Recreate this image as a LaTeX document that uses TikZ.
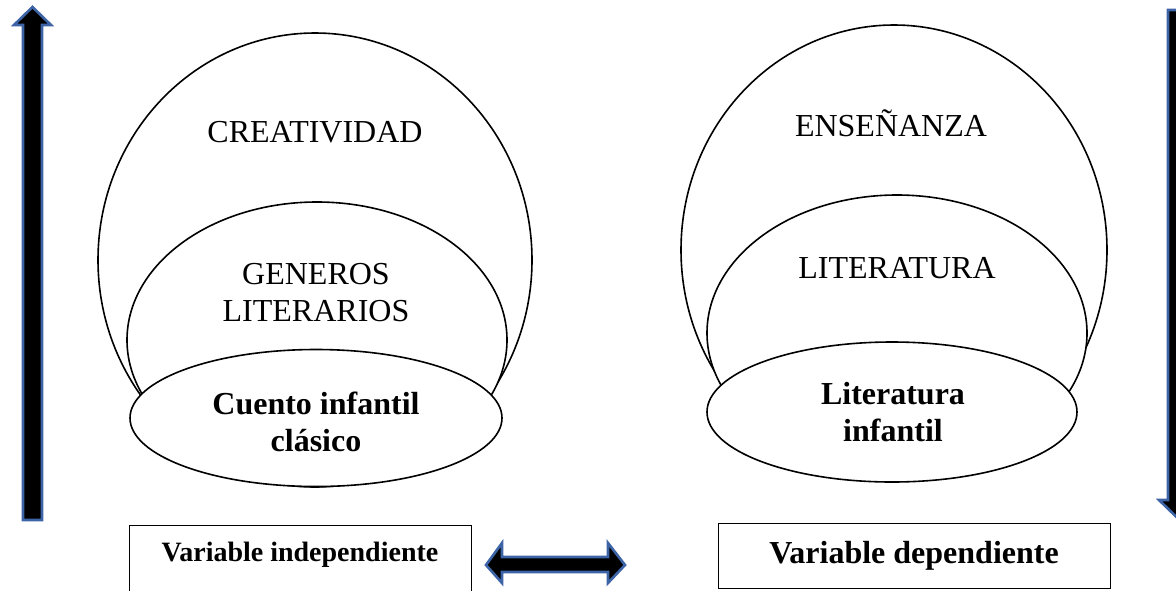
\documentclass[tikz,border=0pt]{standalone}
\usepackage{fontspec}
\setmainfont{Liberation Serif}
\usetikzlibrary{shapes.geometric}
\definecolor{arrblue}{RGB}{62,100,168}
\tikzset{
  ring/.style={draw=black, line width=1.6pt, fill=white, ellipse, inner sep=0pt},
  big/.style={font=\fontsize{32}{37}\selectfont, align=center},
  bigb/.style={font=\fontsize{32}{37}\selectfont\bfseries, align=center},
  blockarrow/.style={draw=arrblue, line width=2.6pt, fill=black, line join=miter},
  varbox/.style={draw=black, line width=1pt, rectangle, inner sep=0pt}
}
\begin{document}
\begin{tikzpicture}[x=1pt,y=-1pt]
\useasboundingbox (0,0) rectangle (1176,590);
\clip (0,0) rectangle (1176,590);
% vertical arrows
\draw[blockarrow] (23,520) -- (42,520) -- (42,25) -- (51,25) -- (32.5,7) -- (14,25) -- (23,25) -- cycle;
\draw[blockarrow] (1168,10) -- (1187,10) -- (1187,500) -- (1196,500) -- (1177.5,518) -- (1159,500) -- (1168,500) -- cycle;
% left group
\node[ring, minimum width=434pt, minimum height=454pt] (c1) at (315,260) {};
\node[ring, minimum width=380pt, minimum height=276pt] (g1) at (317,340) {};
\node[ring, minimum width=372pt, minimum height=137pt] (e1) at (316,418) {};
\node[big] (t1) at (315,132) {CREATIVIDAD};
\node[big] (t2) at (316,293) {GENEROS\\LITERARIOS};
\node[bigb] (t3) at (316,422) {Cuento infantil\\clásico};
% right group
\node[ring, minimum width=426pt, minimum height=450pt] (c2) at (894,250) {};
\node[ring, minimum width=380pt, minimum height=276pt] (g2) at (897,333) {};
\node[ring, minimum width=370pt, minimum height=140pt] (e2) at (892,412) {};
\node[big] (t4) at (891,123) {ENSEÑANZA};
\node[big] (t5) at (897,268) {LITERATURA};
\node[bigb] (t6) at (893,412) {Literatura\\infantil};
% bottom boxes
\node[varbox, minimum width=342pt, minimum height=80pt] (b1) at (300,565) {};
\node[font=\fontsize{28}{32}\selectfont\bfseries] (v1) at (300,555) {Variable independiente};
\node[varbox, minimum width=392pt, minimum height=65pt, font=\fontsize{32}{36}\selectfont\bfseries] (b2) at (914,555.5) {Variable dependiente};
% double arrow
\draw[blockarrow] (486,565) -- (502,543) -- (502,557) -- (608,557) -- (608,543) -- (625,565) -- (608,583) -- (608,572) -- (502,572) -- (502,583) -- cycle;
\end{tikzpicture}
\end{document}
